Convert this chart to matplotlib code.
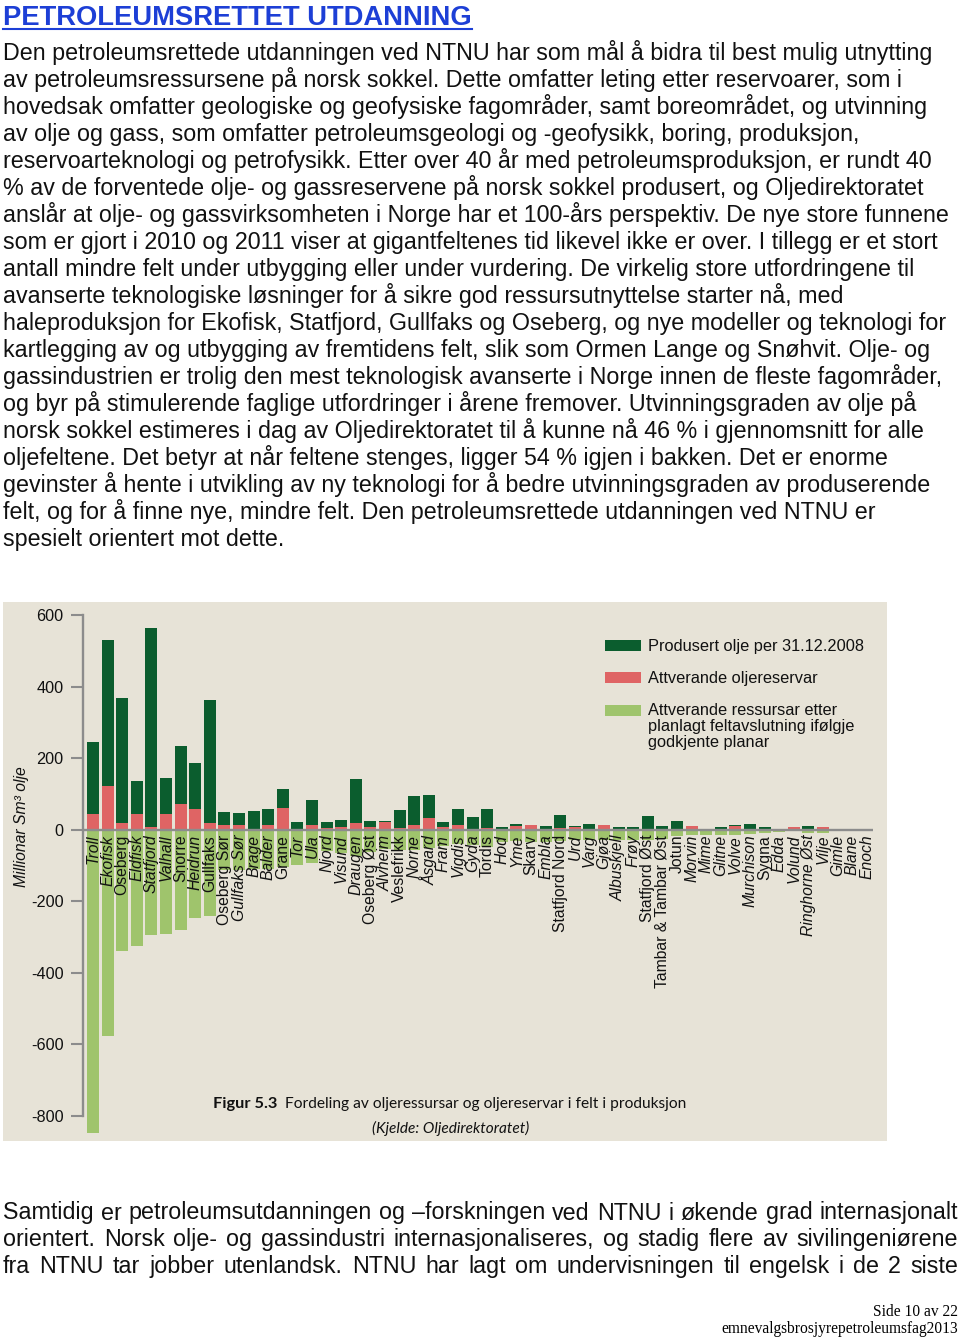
import matplotlib
matplotlib.use("Agg")
import matplotlib.pyplot as plt
from matplotlib.patches import Rectangle, Patch
from matplotlib.lines import Line2D
from matplotlib.legend_handler import HandlerPatch

plt.rcParams['font.family'] = ['Liberation Sans', 'DejaVu Sans']

# ---- data (Millionar Sm3 olje) ----
fields = ["Troll", "Ekofisk", "Oseberg", "Eldfisk", "Statfjord", "Valhall", "Snorre",
          "Heidrun", "Gullfaks", "Oseberg Sør", "Gullfaks Sør", "Brage", "Balder", "Grane",
          "Tor", "Ula", "Njord", "Visund", "Draugen", "Oseberg Øst", "Alvheim", "Veslefrikk",
          "Norne", "Åsgard", "Fram", "Vigdis", "Gyda", "Tordis", "Hod", "Yme", "Skarv",
          "Embla", "Statfjord Nord", "Urd", "Varg", "Gjøa", "Albuskjell", "Frøy",
          "Statfjord Øst", "Tambar & Tambar Øst", "Jotun", "Morvin", "Mime", "Glitne",
          "Volve", "Murchison", "Sygna", "Edda", "Volund", "Ringhorne Øst", "Vilje",
          "Gimle", "Blane", "Enoch"]
produced = [202, 407, 348, 93, 559, 103, 164, 128, 343, 34, 33, 49, 44, 54,
            21, 69, 17, 20, 122, 16, 5, 50, 81, 65, 13, 43, 35, 52, 7, 7, 0,
            10, 36, 3, 16, 0, 7, 7, 37, 9, 24, 0, 0, 8, 4, 15, 8, 1, 0, 8, 1,
            2, 0.5, 0.5]
reserves = [42, 123, 19, 42, 6, 42, 70, 57, 19, 14, 13, 2, 13, 60,
            0, 14, 4, 7, 19, 7, 20, 4, 12, 31, 8, 13, 0, 4, 0, 9, 13,
            0, 4, 6, 0, 12, 0, 0, 0, 1, 0, 11, 0, 0, 10, 1, 0, 0, 6, 1, 7,
            0, 0, 0]
remaining = [850, 578, 341, 326, 296, 293, 280, 248, 241, 113, 113, 110, 110, 105,
             100, 95, 60, 65, 75, 62, 55, 58, 58, 52, 45, 40, 42, 48, 34, 33, 36,
             35, 32, 30, 30, 30, 30, 28, 28, 26, 19, 16, 16, 14, 14, 12, 9, 7, 5, 9, 9,
             4, 1, 1]
upright = {"Oseberg", "Snorre", "Gullfaks", "Oseberg Sør", "Grane", "Oseberg Øst",
           "Veslefrikk", "Tordis", "Skarv", "Statfjord Nord", "Statfjord Øst",
           "Tambar & Tambar Øst", "Jotun", "Sygna"}
yticks = [-800, -600, -400, -200, 0, 200, 400, 600]
legend_labels = ["Produsert olje per 31.12.2008", "Attverande oljereservar",
                 "Attverande ressursar etter\nplanlagt feltavslutning ifølgje\ngodkjente planar"]

para1 = [
    "Den petroleumsrettede utdanningen ved NTNU har som mål å bidra til best mulig utnytting",
    "av petroleumsressursene på norsk sokkel. Dette omfatter leting etter reservoarer, som i",
    "hovedsak omfatter geologiske og geofysiske fagområder, samt boreområdet, og utvinning",
    "av olje og gass, som omfatter petroleumsgeologi og -geofysikk, boring, produksjon,",
    "reservoarteknologi og petrofysikk. Etter over 40 år med petroleumsproduksjon, er rundt 40",
    "% av de forventede olje- og gassreservene på norsk sokkel produsert, og Oljedirektoratet",
    "anslår at olje- og gassvirksomheten i Norge har et 100-års perspektiv. De nye store funnene",
    "som er gjort i 2010 og 2011 viser at gigantfeltenes tid likevel ikke er over. I tillegg er et stort",
    "antall mindre felt under utbygging eller under vurdering. De virkelig store utfordringene til",
    "avanserte teknologiske løsninger for å sikre god ressursutnyttelse starter nå, med",
    "haleproduksjon for Ekofisk, Statfjord, Gullfaks og Oseberg, og nye modeller og teknologi for",
    "kartlegging av og utbygging av fremtidens felt, slik som Ormen Lange og Snøhvit. Olje- og",
    "gassindustrien er trolig den mest teknologisk avanserte i Norge innen de fleste fagområder,",
    "og byr på stimulerende faglige utfordringer i årene fremover. Utvinningsgraden av olje på",
    "norsk sokkel estimeres i dag av Oljedirektoratet til å kunne nå 46 % i gjennomsnitt for alle",
    "oljefeltene. Det betyr at når feltene stenges, ligger 54 % igjen i bakken. Det er enorme",
    "gevinster å hente i utvikling av ny teknologi for å bedre utvinningsgraden av produserende",
    "felt, og for å finne nye, mindre felt. Den petroleumsrettede utdanningen ved NTNU er",
    "spesielt orientert mot dette.",
]
para2 = [
    "Samtidig er petroleumsutdanningen og –forskningen ved NTNU i økende grad internasjonalt",
    "orientert. Norsk olje- og gassindustri internasjonaliseres, og stadig flere av sivilingeniørene",
    "fra NTNU tar jobber utenlandsk. NTNU har lagt om undervisningen til engelsk i de 2 siste",
]

W, H = 960, 1339
DARK, RED, LIGHT = "#0b5d2e", "#df6464", "#9fc46c"
BG, GREY = "#e7e3d7", "#8c8c8c"
LEG_SIZE, LEG_LS = 11.8, 1.08

fig = plt.figure(figsize=(W / 100, H / 100), dpi=100)
renderer = fig.canvas.get_renderer()


def put(x, y, s, width=None, **kw):
    t = fig.text(x / W, 1 - y / H, s, **kw)
    if width:
        w = t.get_window_extent(renderer).width
        t.set_fontsize(t.get_fontsize() * width / w)
    return t


# title with underline
t = put(3, 25, "PETROLEUMSRETTET UTDANNING", width=467, fontsize=18,
        fontweight="bold", color="#1d3fd6", va="baseline")
tw = t.get_window_extent(renderer).width
fig.add_artist(Line2D([3 / W, (3 + tw) / W], [1 - 28.5 / H] * 2, color="#1d3fd6", lw=1.5))

# first paragraph
t0 = put(3, 60, para1[0], width=934, fontsize=15, va="baseline", color="#111111")
body_size = t0.get_fontsize()
for i, line in enumerate(para1[1:], start=1):
    put(3, 60 + 27.0 * i, line, fontsize=body_size, va="baseline", color="#111111")

# second paragraph, justified
for i, line in enumerate(para2):
    y = 1219.5 + 26.8 * i
    words = line.split()
    objs = [put(0, y, w_, fontsize=body_size, va="baseline", color="#111111") for w_ in words]
    widths = [o.get_window_extent(renderer).width for o in objs]
    gap = (958 - 3 - sum(widths)) / (len(words) - 1)
    x = 3
    for o, w_ in zip(objs, widths):
        o.set_x(x / W)
        x += w_ + gap

# footer
put(958, 1316, "Side 10 av 22", fontsize=11.2, family="Liberation Serif",
    ha="right", va="baseline")
put(958, 1333, "emnevalgsbrosjyrepetroleumsfag2013", fontsize=11.2,
    family="Liberation Serif", ha="right", va="baseline")

# chart panel
fig.add_artist(Rectangle((3 / W, 1 - 1141 / H), 884 / W, 539 / H,
                         transform=fig.transFigure, facecolor=BG, edgecolor="none", zorder=0))

ax = fig.add_axes([83 / W, 1 - 1141 / H, 804 / W, 539 / H])
ax.patch.set_visible(False)
x = list(range(len(fields)))
ax.bar(x, reserves, width=0.82, color=RED, zorder=2)
ax.bar(x, produced, width=0.82, bottom=reserves, color=DARK, zorder=2)
ax.bar(x, [-v for v in remaining], width=0.82, color=LIGHT, zorder=2)
ax.hlines(0, -0.685, len(fields) - 0.6, color=GREY, lw=1.7, zorder=3)

ax.set_xlim(-0.685, 54.38)
ax.set_ylim(-871.3, 636.4)
for s in ["top", "right", "bottom"]:
    ax.spines[s].set_visible(False)
ax.spines["left"].set_bounds(-800, 600)
ax.spines["left"].set_color(GREY)
ax.spines["left"].set_linewidth(1.7)
ax.set_xticks([])
ax.set_yticks(yticks)
ax.set_yticklabels([str(v) for v in yticks])
ax.tick_params(axis="y", direction="out", length=8.6, width=1.5, color=GREY,
               labelsize=11.7, pad=5.5, labelcolor="#111111")
ax.set_ylabel("Millionar Sm³ olje", fontsize=11.3, style="italic", color="#111111")
ax.yaxis.set_label_coords((29 - 83) / 804, (1141 - 827) / 539)

for i, name in enumerate(fields):
    ax.text(i, -15, name, rotation=90, ha="center", va="top", fontsize=11.3,
            style="normal" if name in upright else "italic", color="#111111", zorder=4)


def raised(legend, orig_handle, xdescent, ydescent, width, height, fontsize):
    # put the swatch level with the first line of a three-line label
    return Rectangle((-xdescent, -ydescent + LEG_LS * 0.93 * fontsize), width, height)


handles = [Patch(facecolor=c, edgecolor="none") for c in (DARK, RED, LIGHT)]
leg = fig.legend(handles, legend_labels, loc="upper left",
                 bbox_to_anchor=(605 / W, 1 - 639 / H), frameon=False,
                 prop={"family": "Liberation Sans", "size": LEG_SIZE},
                 borderpad=0, borderaxespad=0, handlelength=2.2, handleheight=0.7,
                 handletextpad=0.45, labelspacing=1.05,
                 handler_map={handles[2]: HandlerPatch(patch_func=raised)})
for txt in leg.get_texts():
    txt.set_linespacing(LEG_LS)
    txt.set_color("#111111")

# caption
put(213, 1108, "Figur 5.3", width=64, fontsize=11, family="Lato",
    fontweight="bold", va="baseline", color="#111111")
put(285, 1108, "Fordeling av oljeressursar og oljereservar i felt i produksjon", width=401,
    fontsize=11, family="Lato", va="baseline", color="#111111")
put(372, 1133, "(Kjelde: Oljedirektoratet)", width=156, fontsize=11, family="Lato",
    style="italic", va="baseline", color="#111111")

fig.savefig("out.png", dpi=100, facecolor="white")
